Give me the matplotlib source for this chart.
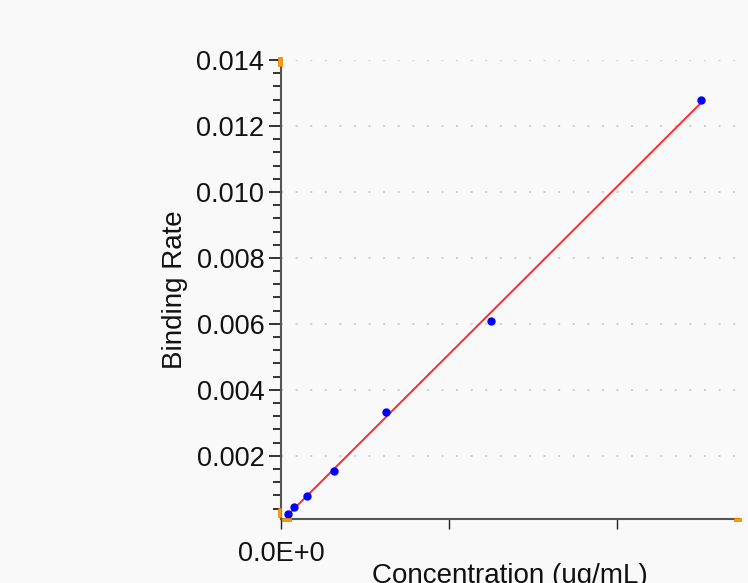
import matplotlib
matplotlib.use("Agg")
import matplotlib.pyplot as plt
from matplotlib.patches import Rectangle
import numpy as np

# Data
concentration = [0.0390625, 0.078125, 0.15625, 0.3125, 0.625, 1.25, 2.5]
binding_rate = [0.000236, 0.000448, 0.000773, 0.00153, 0.003327, 0.00610, 0.01280]
y_ticks = [0.002, 0.004, 0.006, 0.008, 0.010, 0.012, 0.014]
y_tick_labels = ["0.002", "0.004", "0.006", "0.008", "0.010", "0.012", "0.014"]
x_ticks = [0, 1, 2]
x_tick_labels = ["0.0E+0", "", ""]

plt.rcParams['font.family'] = ['Liberation Sans', 'DejaVu Sans']
BG = "#f9f9f9"
W, H = 748, 583
fig = plt.figure(figsize=(W / 100, H / 100), dpi=100, facecolor=BG)
ax = fig.add_axes([281 / W, 1 - 518.5 / H, (739 - 281) / W, (518.5 - 60) / H])
ax.set_facecolor(BG)

x = np.array(concentration)
y = np.array(binding_rate)
k, b = np.polyfit(x, y, 1)
xf = np.linspace(x.min(), x.max(), 200)
ax.plot(xf, k * xf + b, color="#ff2a2a", lw=1.4, zorder=3)
ax.plot(x, y, 'o', color="#0000ff", ms=5, zorder=4, clip_on=False)

ax.set_xlim(0, 2.725)
ax.set_ylim(0.0001, 0.014)
ax.set_yticks(y_ticks)
ax.set_yticklabels(y_tick_labels)
ax.set_yticks(np.arange(0.0004, 0.014, 0.0004), minor=True)
ax.set_xticks(x_ticks)
ax.set_xticklabels(x_tick_labels)

for s in ["top", "right"]:
    ax.spines[s].set_visible(False)
for s in ["left", "bottom"]:
    ax.spines[s].set_color("#555555")
    ax.spines[s].set_linewidth(1.5)

FS = 19.5
ax.tick_params(axis='y', which='major', length=9, width=1.3, color="#222222",
               labelsize=FS, pad=3, labelcolor="#111111")
ax.tick_params(axis='y', which='minor', length=6, width=1.3, color="#222222")
ax.tick_params(axis='x', which='major', length=7, width=1.0, color="#222222",
               labelsize=FS, pad=9, labelcolor="#111111")

ax.grid(axis='y', which='major', color="#d0d0d0", linestyle=(0, (1, 6)), lw=1.5)
ax.set_axisbelow(True)

ax.set_ylabel("Binding Rate", fontsize=FS + 0.5, labelpad=6, color="#111111")
ax.set_xlabel("Concentration (ug/mL)", fontsize=FS + 0.5, labelpad=-3, color="#111111")

# orange axis handles
orange = "#ff9900"
def rect(x0, y0, w, h):
    fig.add_artist(Rectangle((x0 / W, 1 - (y0 + h) / H), w / W, h / H,
                             transform=fig.transFigure, facecolor=orange,
                             edgecolor="#e08000", lw=0.5, zorder=10))
rect(278, 57, 4, 9)
rect(278, 508, 3, 9)
rect(282, 518, 9, 3)
rect(734, 518, 7, 3)

fig.savefig("out.png", dpi=100, facecolor=BG)
